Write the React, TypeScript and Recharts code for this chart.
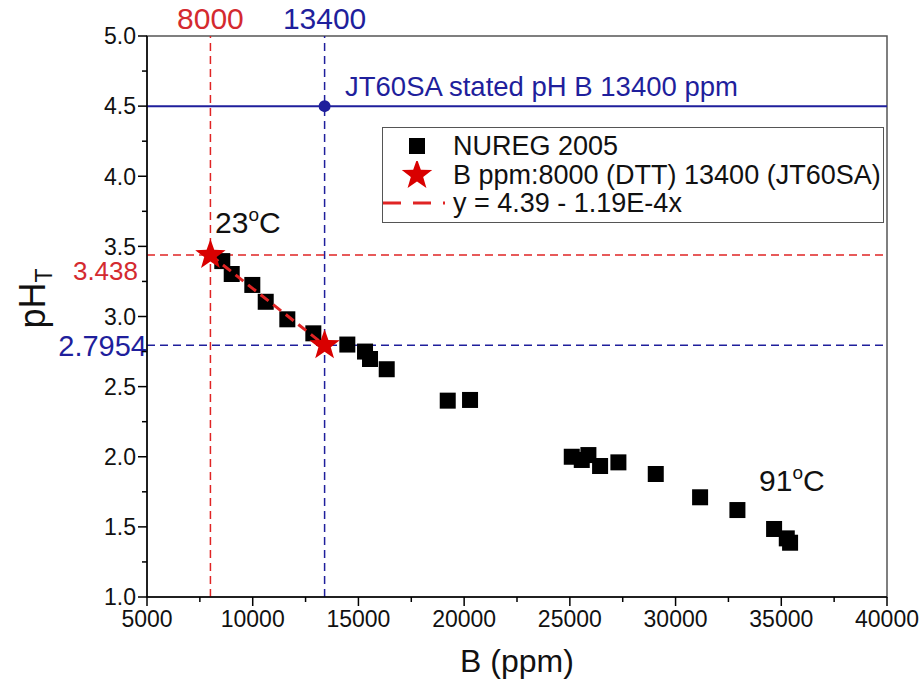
import React from 'react';
import {
  ScatterChart,
  Scatter,
  XAxis,
  YAxis,
  ReferenceLine,
  ReferenceDot,
  ReferenceArea,
  Legend,
} from 'recharts';

// ---------- data ----------
const nuregB = [8560, 9007, 9981, 10615, 11637, 12867, 14475, 15312, 15548, 16338, 19224, 20279, 25090, 25563, 25877, 26430, 27296, 29063, 31160, 32925, 34660, 35260, 35416];
const nuregPH = [3.395, 3.303, 3.225, 3.105, 2.98, 2.88, 2.8, 2.75, 2.697, 2.624, 2.4, 2.405, 2.0, 1.977, 2.012, 1.934, 1.96, 1.877, 1.711, 1.62, 1.485, 1.418, 1.387];

const starB = [8000, 13400];
const starPH = [3.438, 2.7954];
const starLabels = ['3.438', '2.7954'];

const statedPH = 4.5;
const statedB = 13400;

const xTicks = [5000, 7500, 10000, 12500, 15000, 17500, 20000, 22500, 25000, 27500, 30000, 32500, 35000, 37500, 40000];
const yTicks = [1.0, 1.25, 1.5, 1.75, 2.0, 2.25, 2.5, 2.75, 3.0, 3.25, 3.5, 3.75, 4.0, 4.25, 4.5, 4.75, 5.0];

const tempB = [8220, 33950];
const tempPH = [3.595, 1.755];
const tempText = ['23', '91'];

const statedTextB = [14366];
const statedTextPH = [4.572];
const statedText = ['JT60SA stated pH B 13400 ppm'];

const legendNames = ['NUREG 2005', 'B ppm:8000 (DTT) 13400 (JT60SA)', 'y = 4.39 - 1.19E-4x'];

// ---------- styles ----------
const FONT = '"Liberation Sans", Arial, Helvetica, sans-serif';
const RED = '#e02424';
const RED_TEXT = '#d42a2f';
const STAR_RED = '#d90000';
const BLUE = '#1f1f9c';
const TICK_SIZE = 8;
const TICK_MARGIN = 3;

const nuregData = nuregB.map((b, i) => ({ b, ph: nuregPH[i] }));
const starData = starB.map((b, i) => ({ b, ph: starPH[i] }));
const tempData = tempB.map((b, i) => ({ b, ph: tempPH[i], t: tempText[i] }));
const statedData = statedTextB.map((b, i) => ({ b, ph: statedTextPH[i], t: statedText[i] }));

const starPoints = (cx: number, cy: number, R: number, r: number) => {
  const pts: string[] = [];
  for (let i = 0; i < 10; i++) {
    const ang = -Math.PI / 2 + (i * Math.PI) / 5;
    const rad = i % 2 === 0 ? R : r;
    pts.push(`${cx + rad * Math.cos(ang)},${cy + rad * Math.sin(ang)}`);
  }
  return pts.join(' ');
};

const SquareShape = (props: any) => {
  const { cx, cy } = props;
  return <rect x={cx - 8} y={cy - 8} width={16} height={16} fill="#000" />;
};

const StarShape = (props: any) => {
  const { cx, cy } = props;
  return <polygon points={starPoints(cx, cy, 16, 6.5)} fill={STAR_RED} />;
};

const NoShape = () => <g />;

const TempShape = (props: any) => {
  const { cx, cy, payload } = props;
  return (
    <text x={cx} y={cy} fontFamily={FONT} fontSize={30} fill="#111">
      {payload.t}
      <tspan dy={-12} fontSize={19}>o</tspan>
      <tspan dy={12}>C</tspan>
    </text>
  );
};

const StatedShape = (props: any) => {
  const { cx, cy, payload } = props;
  return (
    <text x={cx} y={cy} fontFamily={FONT} fontSize={27.5} fill={BLUE}>
      {payload.t}
    </text>
  );
};

const XTick = (props: any) => {
  const { x, y, payload } = props;
  const v = payload.value;
  const major = v % 5000 === 0;
  const axisY = y - TICK_SIZE - TICK_MARGIN;
  return (
    <g>
      <line x1={x} x2={x} y1={axisY} y2={axisY + (major ? 9 : 5)} stroke="#000" strokeWidth={1.5} />
      {major && (
        <text x={x} y={y} dy="0.82em" textAnchor="middle" fontFamily={FONT} fontSize={23} fill="#111">
          {v}
        </text>
      )}
    </g>
  );
};

const YTick = (props: any) => {
  const { x, y, payload } = props;
  const v = payload.value;
  const major = Math.abs(v * 2 - Math.round(v * 2)) < 1e-6;
  const axisX = x + TICK_SIZE + TICK_MARGIN;
  return (
    <g>
      <line x1={axisX - (major ? 9 : 5)} x2={axisX} y1={y} y2={y} stroke="#000" strokeWidth={1.5} />
      {major && (
        <text x={x} y={y} dy="0.36em" textAnchor="end" fontFamily={FONT} fontSize={23} fill="#111">
          {v.toFixed(1)}
        </text>
      )}
    </g>
  );
};

const TopLabel = (props: any) => {
  const { viewBox, value, color } = props;
  return (
    <text x={viewBox.x} y={viewBox.y - 7} textAnchor="middle" fontFamily={FONT} fontSize={30} fill={color}>
      {value}
    </text>
  );
};

const SideLabel = (props: any) => {
  const { viewBox, value, color, dx, dy, size } = props;
  return (
    <text x={viewBox.x + dx} y={viewBox.y + dy} dy="0.36em" textAnchor="end" fontFamily={FONT} fontSize={size} fill={color}>
      {value}
    </text>
  );
};

const YTitle = (props: any) => {
  const { viewBox } = props;
  const cx = viewBox.x + 32;
  const cy = viewBox.y + viewBox.height / 2 - 18;
  return (
    <text x={cx} y={cy} transform={`rotate(-90 ${cx} ${cy})`} textAnchor="middle" dy="0.35em" fontFamily={FONT} fontSize={36} fill="#111">
      pH<tspan dy={7} fontSize={23}>T</tspan>
    </text>
  );
};

const XTitle = (props: any) => {
  const { viewBox } = props;
  const cx = viewBox.x + viewBox.width / 2;
  return (
    <text x={cx} y={viewBox.y + 75} textAnchor="middle" fontFamily={FONT} fontSize={32} fill="#111">
      B (ppm)
    </text>
  );
};

const LegendBox = () => {
  const icons = [
    <rect key="sq" x={26} y={6} width={16} height={16} fill="#000" />,
    <polygon key="st" points={starPoints(34, 14, 16, 6.5)} fill={STAR_RED} />,
    <line key="ln" x1={0} x2={62} y1={14} y2={14} stroke={RED} strokeWidth={3} strokeDasharray="18 12" />,
  ];
  return (
    <div
      style={{
        border: '1.5px solid #555',
        background: '#fff',
        padding: '4px 0 5px 0',
        fontFamily: FONT,
        fontSize: 27,
        color: '#111',
        boxSizing: 'border-box',
        width: 502,
        height: 96,
      }}
    >
      {legendNames.map((n, i) => (
        <div key={n} style={{ display: 'flex', alignItems: 'center', height: 28.5 }}>
          <svg width={68} height={28} style={{ flex: 'none', marginRight: 2 }}>
            {icons[i]}
          </svg>
          <span style={{ whiteSpace: 'nowrap', lineHeight: '28px' }}>{n}</span>
        </div>
      ))}
    </div>
  );
};

export default function App() {
  return (
    <div style={{ position: 'absolute', left: 0, top: 0, width: 922, height: 689, background: '#fff' }}>
      <ScatterChart width={922} height={689} margin={{ top: 36, right: 35, bottom: 0, left: 0 }}>
        <XAxis
          dataKey="b"
          type="number"
          domain={[5000, 40000]}
          ticks={xTicks}
          interval={0}
          tick={<XTick />}
          tickLine={false}
          tickSize={TICK_SIZE}
          tickMargin={TICK_MARGIN}
          axisLine={{ stroke: '#000', strokeWidth: 1.5 }}
          height={92}
          allowDataOverflow
          label={<XTitle />}
        />
        <YAxis
          dataKey="ph"
          type="number"
          domain={[1, 5]}
          ticks={yTicks}
          interval={0}
          tick={<YTick />}
          tickLine={false}
          tickSize={TICK_SIZE}
          tickMargin={TICK_MARGIN}
          axisLine={{ stroke: '#000', strokeWidth: 1.5 }}
          width={147}
          allowDataOverflow
          label={<YTitle />}
        />
        <ReferenceArea x1={5000} x2={40000} y1={1} y2={5} fill="none" stroke="#555" strokeWidth={1.5} />
        <ReferenceLine y={statedPH} stroke={BLUE} strokeWidth={2} />
        <ReferenceLine
          x={starB[0]}
          stroke={RED}
          strokeWidth={1.5}
          strokeDasharray="8 5"
          label={<TopLabel value={String(starB[0])} color={RED_TEXT} />}
        />
        <ReferenceLine
          x={starB[1]}
          stroke={BLUE}
          strokeWidth={1.5}
          strokeDasharray="8 5"
          label={<TopLabel value={String(starB[1])} color={BLUE} />}
        />
        <ReferenceLine
          y={starPH[0]}
          stroke={RED}
          strokeWidth={1.5}
          strokeDasharray="8 5"
          label={<SideLabel value={starLabels[0]} color={RED_TEXT} dx={-9} dy={16} size={26} />}
        />
        <ReferenceLine
          y={starPH[1]}
          stroke={BLUE}
          strokeWidth={1.5}
          strokeDasharray="8 5"
          label={<SideLabel value={starLabels[1]} color={BLUE} dx={0} dy={0} size={29} />}
        />
        <ReferenceDot x={statedB} y={statedPH} r={6} fill={BLUE} stroke="none" />
        <Scatter name="NUREG 2005" data={nuregData} shape={<SquareShape />} isAnimationActive={false} />
        <Scatter
          name="fit"
          data={starData}
          shape={<NoShape />}
          line={{ stroke: RED, strokeWidth: 3, strokeDasharray: '10 6' }}
          isAnimationActive={false}
        />
        <Scatter name="stars" data={starData} shape={<StarShape />} isAnimationActive={false} />
        <Scatter name="temps" data={tempData} shape={<TempShape />} isAnimationActive={false} />
        <Scatter name="stated" data={statedData} shape={<StatedShape />} isAnimationActive={false} />
        <Legend
          layout="vertical"
          align="center"
          verticalAlign="middle"
          content={<LegendBox />}
          wrapperStyle={{ position: 'absolute', left: 382, top: 127, width: 502, height: 96 }}
        />
      </ScatterChart>
    </div>
  );
}
